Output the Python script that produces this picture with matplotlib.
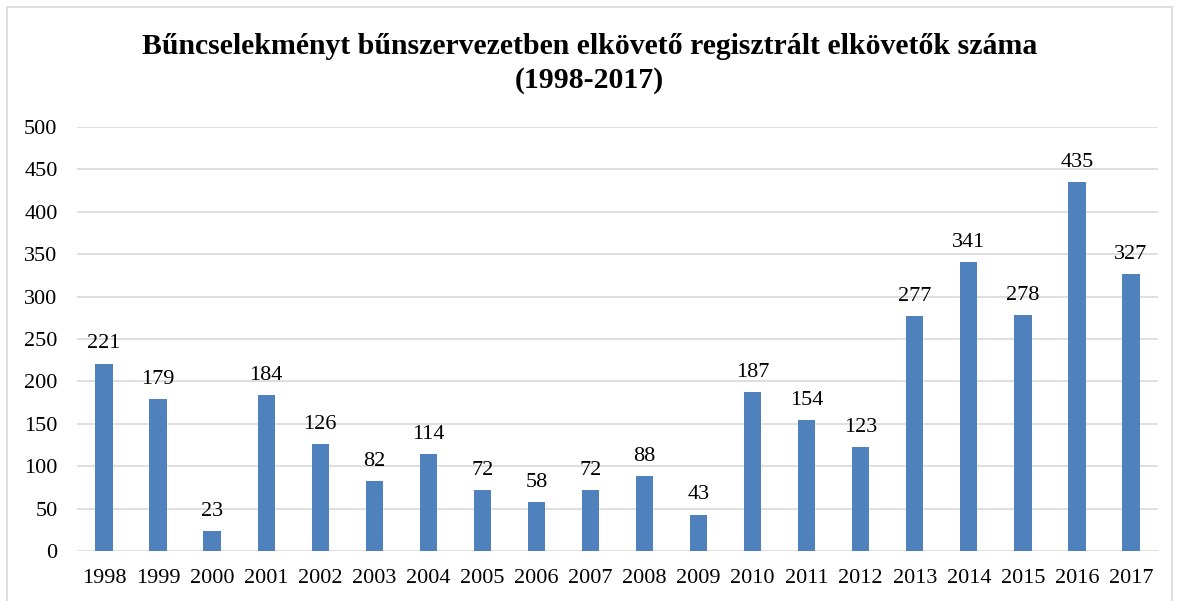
import matplotlib.pyplot as plt
from matplotlib.patches import Rectangle

years = [str(y) for y in range(1998, 2018)]
values = [221, 179, 23, 184, 126, 82, 114, 72, 58, 72, 88, 43,
          187, 154, 123, 277, 341, 278, 435, 327]

plt.rcParams['font.family'] = ['Liberation Serif', 'DejaVu Serif']

fig = plt.figure(figsize=(11.79, 6.01), dpi=100)
ax = fig.add_axes([77/1179, 50/601, (1158-77)/1179, (551-127)/601])

x = range(len(years))
bars = ax.bar(x, values, width=0.32, color='#4f81bd', zorder=3)
for xi, v in zip(x, values):
    ax.text(xi, v + 12, str(v), ha='center', va='bottom', fontsize=16)

ax.set_xlim(-0.5, len(years) - 0.5)
ax.set_ylim(0, 500)
ax.set_yticks(range(0, 501, 50))
ax.set_xticks(list(x))
ax.set_xticklabels(years)
ax.tick_params(axis='both', length=0, labelsize=16)
ax.tick_params(axis='y', pad=14)
ax.tick_params(axis='x', pad=13)
ax.grid(axis='y', color='#d9d9d9', linewidth=1.2, zorder=0)
for s in ax.spines.values():
    s.set_visible(False)

fig.text(0.5, 1 - 47/601, 'Bűncselekményt bűnszervezetben elkövető regisztrált elkövetők száma',
         ha='center', va='center', fontsize=21.4, fontweight='bold')
fig.text(0.5, 1 - 80/601, '(1998-2017)', ha='center', va='center',
         fontsize=21.4, fontweight='bold')

fig.patches.append(Rectangle((7/1179, -0.05), (1172-7)/1179, 1.05 - 7/601,
                             transform=fig.transFigure, fill=False,
                             edgecolor='#d9d9d9', linewidth=1.2))

fig.savefig('out.png', dpi=100)
